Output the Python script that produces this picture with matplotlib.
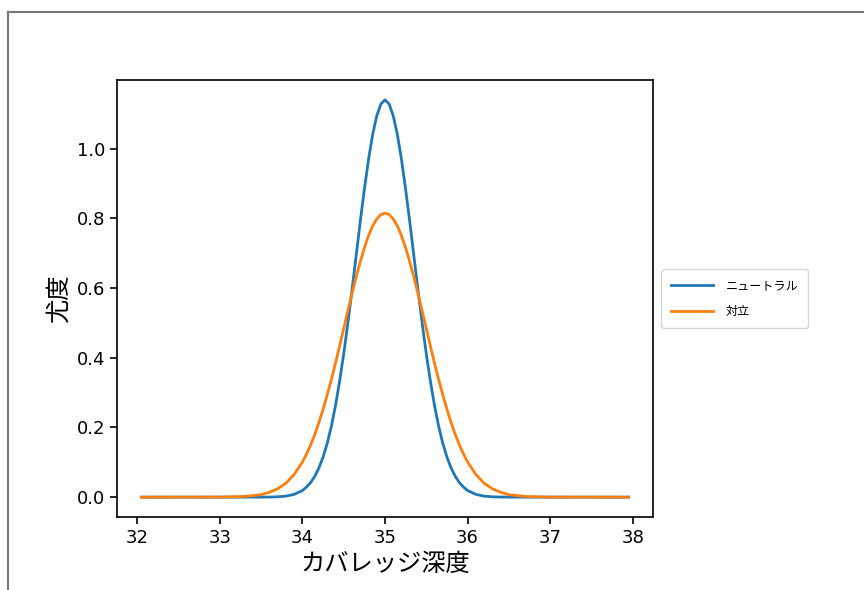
import matplotlib.pyplot as plt
from matplotlib.lines import Line2D

plt.rcParams['font.family'] = ['DejaVu Sans', 'Noto Sans CJK JP']

# x positions (coverage depth)
x_vals = [32.05, 33.0, 33.3, 33.5, 33.6, 33.7, 33.8, 33.9, 34.0, 34.05, 34.1,
          34.15, 34.2, 34.25, 34.3, 34.35, 34.4, 34.45, 34.5, 34.55, 34.6,
          34.65, 34.7, 34.75, 34.8, 34.85, 34.9, 34.95, 35.0, 35.05, 35.1,
          35.15, 35.2, 35.25, 35.3, 35.35, 35.4, 35.45, 35.5, 35.55, 35.6,
          35.65, 35.7, 35.75, 35.8, 35.85, 35.9, 35.95, 36.0, 36.1, 36.2,
          36.3, 36.4, 36.5, 36.7, 37.0, 37.95]

# neutral density
neutral = [0.0, 0.0, 0.0, 0.0001, 0.0003, 0.001, 0.003, 0.008, 0.019, 0.029,
           0.042, 0.060, 0.084, 0.115, 0.154, 0.203, 0.262, 0.332, 0.411,
           0.499, 0.593, 0.691, 0.790, 0.883, 0.968, 1.040, 1.094, 1.128,
           1.140,
           1.128, 1.094, 1.040, 0.968, 0.883, 0.790, 0.691, 0.593, 0.499,
           0.411, 0.332, 0.262, 0.203, 0.154, 0.115, 0.084, 0.060, 0.042,
           0.029, 0.019, 0.008, 0.003, 0.001, 0.0003, 0.0001, 0.0, 0.0, 0.0]

# opposing density
opposing = [0.0, 0.0002, 0.002, 0.007, 0.014, 0.024, 0.040, 0.065, 0.101,
            0.124, 0.150, 0.180, 0.214, 0.252, 0.293, 0.337, 0.384, 0.433,
            0.484, 0.534, 0.584, 0.631, 0.675, 0.715, 0.750, 0.778, 0.798,
            0.811,
            0.815,
            0.811, 0.798, 0.778, 0.750, 0.715, 0.675, 0.631, 0.584, 0.534,
            0.484, 0.433, 0.384, 0.337, 0.293, 0.252, 0.214, 0.180, 0.150,
            0.124, 0.101, 0.065, 0.040, 0.024, 0.014, 0.007, 0.002, 0.0002,
            0.0]

labels = ['ニュートラル', '対立']

fig = plt.figure(figsize=(8.64, 5.9), dpi=100)
ax = fig.add_axes([0.1354, 0.1237, 0.6204, 0.7407])

ax.plot(x_vals, neutral, color='#1f77b4', lw=2, label=labels[0])
ax.plot(x_vals, opposing, color='#ff7f0e', lw=2, label=labels[1])

ax.set_xlabel('カバレッジ深度', fontsize=17.5)
ax.set_ylabel('尤度', fontsize=17.5)
ax.tick_params(labelsize=13, width=1.2, length=5)
for s in ax.spines.values():
    s.set_linewidth(1.2)

ax.legend(loc='center left', bbox_to_anchor=(1.0, 0.5), fontsize=8.7,
          handlelength=3.5, handletextpad=1.0, labelspacing=1.1,
          borderpad=0.8, borderaxespad=0.7)

# outer frame of the original screenshot
fig.add_artist(Line2D([8/864, 1], [1-12/590, 1-12/590], color='#777777', lw=1.5))
fig.add_artist(Line2D([8/864, 8/864], [0, 1-12/590], color='#777777', lw=1.5))

fig.savefig('out.png', dpi=100)
